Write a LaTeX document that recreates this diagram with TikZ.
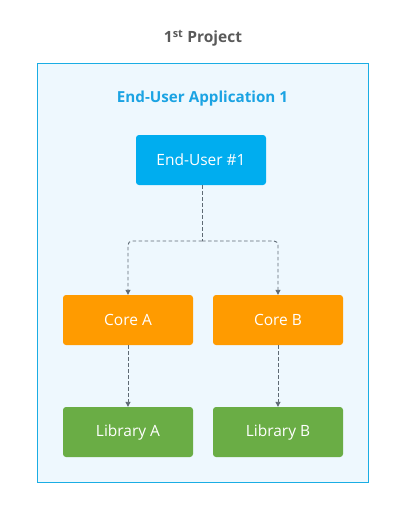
\documentclass[tikz,border=0pt]{standalone}
\usepackage{fontspec}
\setmainfont{Open Sans}
\usetikzlibrary{arrows.meta}
\definecolor{frameblue}{HTML}{1AADE4}
\definecolor{framefill}{HTML}{EEF8FE}
\definecolor{userblue}{HTML}{00ADEF}
\definecolor{coreorange}{HTML}{FF9B00}
\definecolor{libgreen}{HTML}{6AAD45}
\definecolor{labelblue}{HTML}{1BA3E3}
\definecolor{titlegray}{HTML}{5A5A5A}
\definecolor{linegray}{HTML}{5E6A74}
\tikzset{
  box/.style={rounded corners=3pt, minimum width=130pt, minimum height=50pt, inner sep=0pt, text=white, font=\fontsize{15.5}{18}\selectfont},
  userbox/.style={box, fill=userblue},
  corebox/.style={box, fill=coreorange},
  libbox/.style={box, fill=libgreen},
  conn/.style={draw=linegray, line width=0.9pt, dash pattern=on 3.5pt off 2.5pt, -{Triangle[length=5pt,width=5pt]}},
}
\begin{document}
\begin{tikzpicture}[x=1pt,y=-1pt]
\useasboundingbox (0,0) rectangle (404,520);
\node[draw=frameblue, fill=framefill, line width=1pt, minimum width=331pt, minimum height=419pt, inner sep=0pt] (frame) at (202.5,272.5) {};
\node[text=titlegray, font=\bfseries\fontsize{15.5}{18}\selectfont] (title) at (203,38) {1\textsuperscript{st} Project};
\node[text=labelblue, font=\bfseries\fontsize{15.2}{18}\selectfont] (applabel) at (202.5,99) {End-User Application 1};
\node[userbox] (user) at (201,160) {End-User \#1};
\node[corebox] (coreA) at (128,320) {Core A};
\node[corebox] (coreB) at (278,320) {Core B};
\node[libbox] (libA) at (128,432) {Library A};
\node[libbox] (libB) at (278,432) {Library B};
\coordinate (split) at (202,241);
\draw[draw=linegray, line width=0.9pt, dash pattern=on 3.5pt off 2.5pt] (user.south -| split) -- (split);
\draw[conn, rounded corners=4pt] (split) -| (coreA.north);
\draw[conn, rounded corners=4pt] (split) -| (coreB.north);
\draw[conn] (coreA) -- (libA);
\draw[conn] (coreB) -- (libB);
\end{tikzpicture}
\end{document}
